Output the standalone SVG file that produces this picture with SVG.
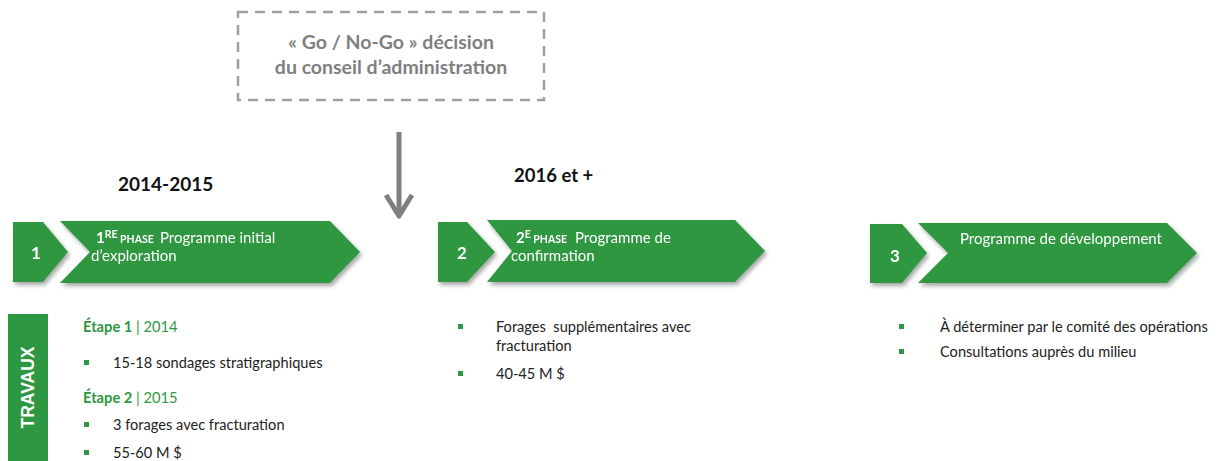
<svg xmlns="http://www.w3.org/2000/svg" width="1225" height="461" viewBox="0 0 1225 461">
<defs>
<style>
text{font-family:Lato,"Liberation Sans",sans-serif}
.g{fill:#2e9741}
.num{font-size:17px;font-weight:bold;fill:#fff;text-anchor:middle}
.ph{font-size:15px;fill:#fff}
.b{font-weight:bold}
.sm{font-size:10.5px;font-weight:bold}
.yr{font-weight:bold;fill:#111}
.body{font-size:14.6px;fill:#222}
.step{font-size:14.7px;fill:#2e9741}
.dec{font-size:19.5px;font-weight:bold;fill:#7f7f7f;text-anchor:middle}
.trav{font-family:"Liberation Sans",Arial,sans-serif;font-size:17.5px;font-weight:bold;fill:#fff;text-anchor:middle}
</style>
<filter id="sh" x="-10%" y="-20%" width="130%" height="150%">
<feDropShadow dx="2" dy="3" stdDeviation="2" flood-color="#000" flood-opacity="0.35"/>
</filter>
</defs>
<rect width="1225" height="461" fill="#fff"/>

<g id="decision">
<rect x="238" y="12" width="306" height="88" fill="none" stroke="#a0a0a0" stroke-width="2.5" stroke-dasharray="10 7"/>
<text class="dec" x="391" y="49">« Go / No-Go » décision</text>
<text class="dec" x="391" y="74">du conseil d’administration</text>
</g>

<g id="connectors">
<line x1="399" y1="132" x2="399" y2="216" stroke="#7f7f7f" stroke-width="5"/>
<polyline points="386,195 399,216 412,195" fill="none" stroke="#7f7f7f" stroke-width="5" stroke-linejoin="round"/>
</g>

<g id="years">
<text class="yr" x="118" y="191" font-size="19">2014-2015</text>
<text class="yr" x="514" y="182" font-size="18.5">2016 et +</text>
</g>

<g id="phase1" filter="url(#sh)">
<polygon class="g" points="13,222 43,222 68,252 43,282 13,282"/>
<polygon class="g" points="60,221 330,221 360,252 330,283 60,283 90,252"/>
<text class="num" x="36" y="259">1</text>
<text class="ph" x="96" y="243"><tspan class="b">1</tspan><tspan class="sm" dy="-5">RE</tspan><tspan class="sm" dy="5"> PHASE</tspan><tspan x="160">Programme initial</tspan></text>
<text class="ph" x="91" y="261">d’exploration</text>
</g>

<g id="phase2" filter="url(#sh)">
<polygon class="g" points="438,222 467,222 495,252 467,282 438,282"/>
<polygon class="g" points="487,220 735,220 765,251 735,282 487,282 512,251"/>
<text class="num" x="462" y="259">2</text>
<text class="ph" x="516" y="243"><tspan class="b">2</tspan><tspan class="sm" dy="-5">E</tspan><tspan class="sm" dy="5"> PHASE</tspan><tspan x="575">Programme de</tspan></text>
<text class="ph" x="511" y="261">confirmation</text>
</g>

<g id="phase3" filter="url(#sh)">
<polygon class="g" points="870,224 902,224 927,253 902,283 870,283"/>
<polygon class="g" points="918,223 1167,223 1197,253 1167,283 918,283 948,253"/>
<text class="num" x="895" y="262">3</text>
<text class="ph" x="960" y="244">Programme de développement</text>
</g>

<g id="travaux">
<rect class="g" x="8" y="314" width="40" height="147"/>
<text class="trav" transform="translate(34 387.5) rotate(-90)">TRAVAUX</text>
</g>

<g id="col1">
<text class="step" x="83" y="332"><tspan class="b">Étape 1</tspan> | 2014</text>
<rect class="g" x="84" y="360" width="5" height="5"/>
<text class="body" x="113" y="368">15-18 sondages stratigraphiques</text>
<text class="step" x="83" y="403"><tspan class="b">Étape 2</tspan> | 2015</text>
<rect class="g" x="84" y="422" width="5" height="5"/>
<text class="body" x="113" y="430">3 forages avec fracturation</text>
<rect class="g" x="84" y="450" width="5" height="5"/>
<text class="body" x="113" y="458">55-60 M $</text>
</g>

<g id="col2">
<rect class="g" x="458" y="324" width="5" height="5"/>
<text class="body" x="496" y="332">Forages&#160; supplémentaires avec</text>
<text class="body" x="496" y="351">fracturation</text>
<rect class="g" x="458" y="371" width="5" height="5"/>
<text class="body" x="496" y="379">40-45 M $</text>
</g>

<g id="col3">
<rect class="g" x="899" y="324" width="5" height="5"/>
<text class="body" x="940" y="332">À déterminer par le comité des opérations</text>
<rect class="g" x="899" y="349" width="5" height="5"/>
<text class="body" x="940" y="357">Consultations auprès du milieu</text>
</g>
</svg>
